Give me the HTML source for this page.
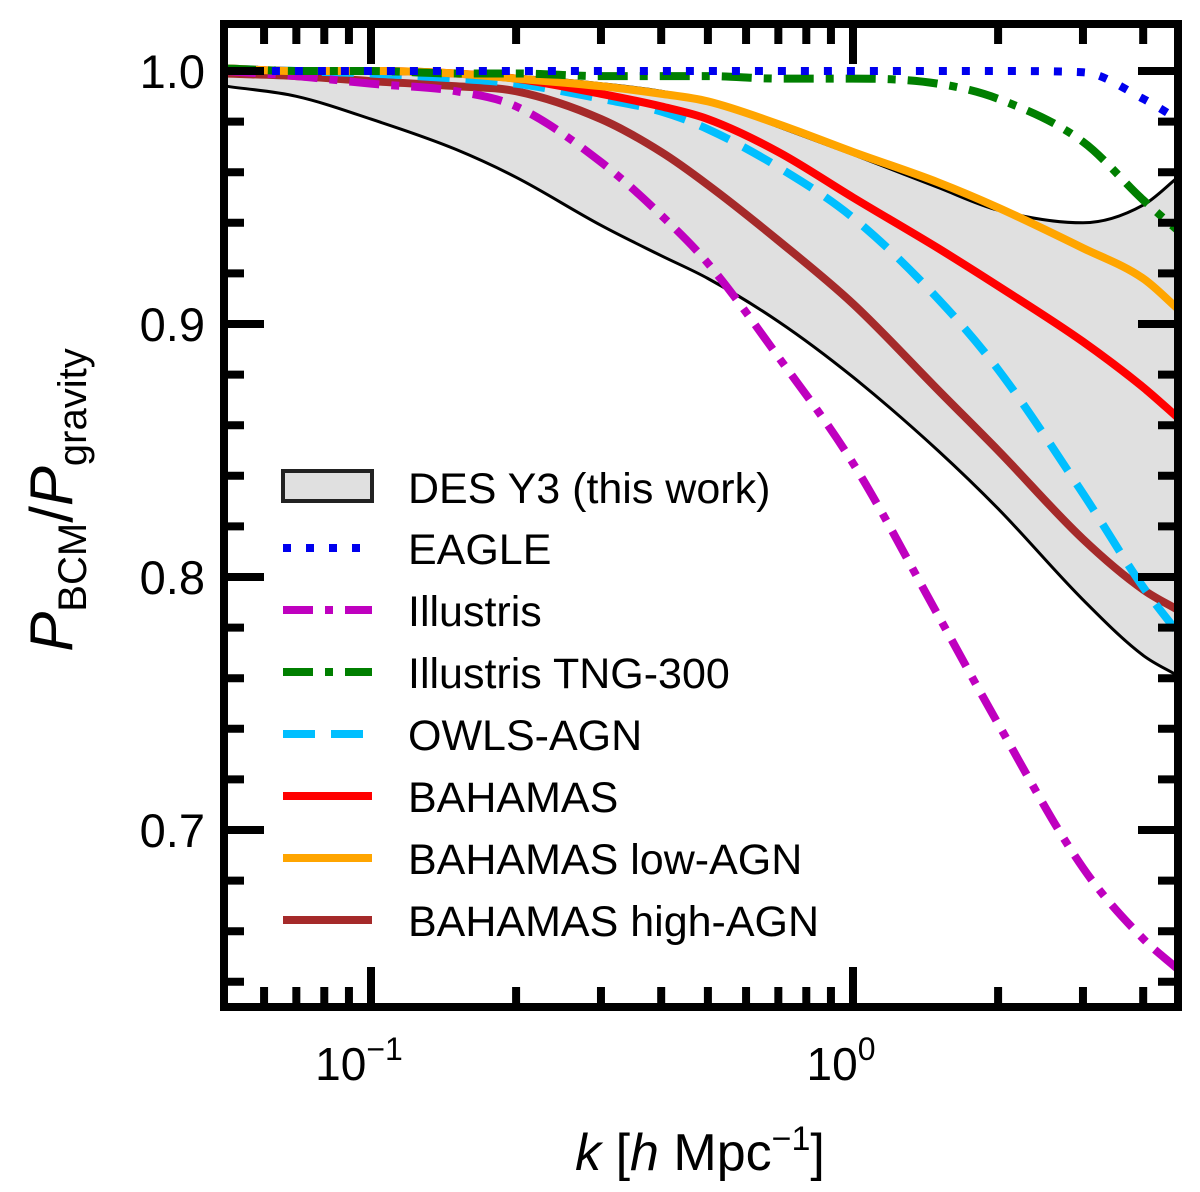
<!DOCTYPE html>
<html><head><meta charset="utf-8"><style>
body{margin:0;background:#fff}
svg text{font-family:"Liberation Sans",sans-serif;fill:#000}
</style></head><body>
<svg id="chart" width="1200" height="1187" viewBox="0 0 1200 1187">
<defs><clipPath id="clip"><rect x="224" y="24" width="954" height="983"/></clipPath></defs>
<g id="plot" clip-path="url(#clip)"></g>
<g id="axes"></g>
<g id="legend"></g>
<text x="700" y="1170" font-size="52" text-anchor="middle"><tspan font-style="italic">k</tspan> [<tspan font-style="italic">h</tspan> Mpc<tspan font-size="34" dy="-20">−1</tspan><tspan dy="20">]</tspan></text>
<text transform="translate(72,500) rotate(-90)" font-size="60" text-anchor="middle"><tspan font-style="italic">P</tspan><tspan font-size="40" dy="14">BCM</tspan><tspan dy="-14">/</tspan><tspan font-style="italic">P</tspan><tspan font-size="40" dy="14">gravity</tspan></text>
</svg>
<script>
const kGrid=[0.05,0.07,0.1,0.15,0.2,0.3,0.4,0.5,0.7,1,1.5,2,3,4,4.72];
const desUpper=[1.001,1.0,1.0,0.999,0.998,0.995,0.992,0.988,0.978,0.967,0.954,0.945,0.940,0.947,0.958];
const desLower=[0.994,0.990,0.981,0.969,0.958,0.939,0.927,0.918,0.901,0.879,0.850,0.827,0.791,0.769,0.761];
const eagle=[1.0,1.0,1.0,1.0,1.0,1.0,1.0,1.0,1.0,1.0,1.0,1.0,0.9995,0.989,0.981];
const illustris=[1.0,0.998,0.995,0.992,0.986,0.964,0.943,0.924,0.887,0.845,0.785,0.742,0.685,0.657,0.645];
const tng=[1.001,1.0,1.0,0.999,0.999,0.998,0.998,0.998,0.997,0.997,0.995,0.989,0.972,0.949,0.937];
const owls=[1.001,1.0,0.999,0.997,0.995,0.989,0.984,0.977,0.962,0.942,0.910,0.882,0.833,0.796,0.778];
const bahamas=[1.001,1.0,1.0,0.999,0.997,0.991,0.986,0.981,0.968,0.950,0.930,0.915,0.893,0.875,0.863];
const lowAgn=[1.001,1.0,1.0,0.999,0.997,0.994,0.991,0.988,0.979,0.968,0.956,0.946,0.930,0.918,0.906];
const highAgn=[0.999,0.998,0.996,0.994,0.992,0.981,0.968,0.955,0.933,0.908,0.874,0.850,0.815,0.795,0.787];
const yTicks=[0.7,0.8,0.9,1.0];
const yTickLabels=["0.7","0.8","0.9","1.0"];

const NS="http://www.w3.org/2000/svg";
const X0=224,X1=1178,Y0=24,Y1=1007;
function xs(k){return 853+482*Math.log10(k);}
function ys(v){return 71+(1-v)*2530;}
function pts(vals){return kGrid.map((k,i)=>[xs(k),ys(vals[i])]);}
function smooth(p){
 const n=p.length,d=[],m=[];
 for(let i=0;i<n-1;i++)d.push((p[i+1][1]-p[i][1])/(p[i+1][0]-p[i][0]));
 m[0]=d[0];m[n-1]=d[n-2];
 for(let i=1;i<n-1;i++){m[i]=(d[i-1]*d[i]<=0)?0:(d[i-1]+d[i])/2;}
 for(let i=0;i<n-1;i++){if(d[i]===0){m[i]=0;m[i+1]=0;continue;}
  const a=m[i]/d[i],b=m[i+1]/d[i],s=a*a+b*b;if(s>9){const t=3/Math.sqrt(s);m[i]=t*a*d[i];m[i+1]=t*b*d[i];}}
 let s="M"+p[0][0].toFixed(1)+","+p[0][1].toFixed(1);
 for(let i=0;i<n-1;i++){const h=(p[i+1][0]-p[i][0])/3;
  s+=" C"+(p[i][0]+h).toFixed(1)+","+(p[i][1]+m[i]*h).toFixed(1)+" "+(p[i+1][0]-h).toFixed(1)+","+(p[i+1][1]-m[i+1]*h).toFixed(1)+" "+p[i+1][0].toFixed(1)+","+p[i+1][1].toFixed(1);}
 return s;}
const plot=document.getElementById('plot'),axes=document.getElementById('axes'),legend=document.getElementById('legend');
function mk(parent,tag,attrs){const e=document.createElementNS(NS,tag);for(const a in attrs)e.setAttribute(a,attrs[a]);parent.appendChild(e);return e;}

const up=pts(desUpper),loR=pts(desLower).slice().reverse();
const bandD=smooth(up)+" L"+loR[0][0].toFixed(1)+","+loR[0][1].toFixed(1)+smooth(loR).replace(/^M[^C]*/," ")+" Z";
const band=mk(plot,'path',{d:bandD,fill:'#e0e0e0',stroke:'none'});


const bu=mk(plot,'path',{d:smooth(up),fill:'none',stroke:'#000','stroke-width':3});


const bl=mk(plot,'path',{d:smooth(pts(desLower)),fill:'none',stroke:'#000','stroke-width':3});



const series=[
 {n:'eagle',v:eagle,c:'#0000ee',da:'8 15',w:8,label:'EAGLE'},
 {n:'illustris',v:illustris,c:'#bf00bf',da:'30 12 8 12',w:8,label:'Illustris'},
 {n:'tng-300',v:tng,c:'#007f00',da:'30 12 8 12',w:8,label:'Illustris TNG-300'},
 {n:'owls-agn',v:owls,c:'#00bfff',da:'32 16',w:8,label:'OWLS-AGN'},
 {n:'bahamas',v:bahamas,c:'#ff0000',da:'',w:8,label:'BAHAMAS'},
 {n:'bahamas-low-agn',v:lowAgn,c:'#ffa500',da:'',w:8,label:'BAHAMAS low-AGN'},
 {n:'bahamas-high-agn',v:highAgn,c:'#a52a2a',da:'',w:8,label:'BAHAMAS high-AGN'}];
const order=['bahamas-high-agn','owls-agn','bahamas','illustris','bahamas-low-agn','tng-300','eagle'];
order.forEach(n=>{const s=series.find(q=>q.n===n);
 const p=mk(plot,'path',{d:smooth(pts(s.v)),fill:'none',stroke:s.c,'stroke-width':s.w,'stroke-dasharray':s.da});
 
 });

const fr=mk(axes,'rect',{x:X0,y:Y0,width:X1-X0,height:Y1-Y0,fill:'none',stroke:'#000','stroke-width':8});


for(let dec=-2;dec<=0;dec++)for(let m=1;m<=9;m++){const k=m*Math.pow(10,dec);const x=xs(k);if(x<X0+2||x>X1-2)continue;
 const L=m===1?40:20;
 const t1=mk(axes,'line',{x1:x,x2:x,y1:Y1,y2:Y1-L,stroke:'#000','stroke-width':8});
 
 
 const t2=mk(axes,'line',{x1:x,x2:x,y1:Y0,y2:Y0+L,stroke:'#000','stroke-width':8});
 
 }
[[0.1,"10","−1"],[1,"10","0"]].forEach(([k,b,e])=>{const t=mk(axes,'text',{x:xs(k)-12,y:1080,'font-size':46,'text-anchor':'middle'});
 t.innerHTML=b+'<tspan font-size="32" dy="-20">'+e+'</tspan>';
 
 });
for(let i=0;i<=20;i++){const v=0.62+i*0.02;const y=ys(v);if(y<Y0+2||y>Y1-2)continue;
 const major=Math.abs((v*10)-Math.round(v*10))<1e-6,L=major?40:20;
 const t1=mk(axes,'line',{x1:X0,x2:X0+L,y1:y,y2:y,stroke:'#000','stroke-width':8});
 
 
 const t2=mk(axes,'line',{x1:X1,x2:X1-L,y1:y,y2:y,stroke:'#000','stroke-width':8});
 
 }
yTicks.forEach((v,i)=>{const t=mk(axes,'text',{x:205,y:ys(v)+17,'font-size':47,'text-anchor':'end'});
 t.textContent=yTickLabels[i];
 
 });

const lb=mk(legend,'rect',{x:283,y:471,width:89,height:30,fill:'#e0e0e0',stroke:'#222','stroke-width':4});


const lt=mk(legend,'text',{x:408,y:503,'font-size':43});
lt.textContent='DES Y3 (this work)';


series.forEach((s,i)=>{const y=548+i*62;
 const l=mk(legend,'line',{x1:283,x2:372,y1:y,y2:y,stroke:s.c,'stroke-width':s.w,'stroke-dasharray':s.da});
 
 
 const t=mk(legend,'text',{x:408,y:y+16,'font-size':43});
 t.textContent=s.label;
 
 });
</script>
</body></html>
